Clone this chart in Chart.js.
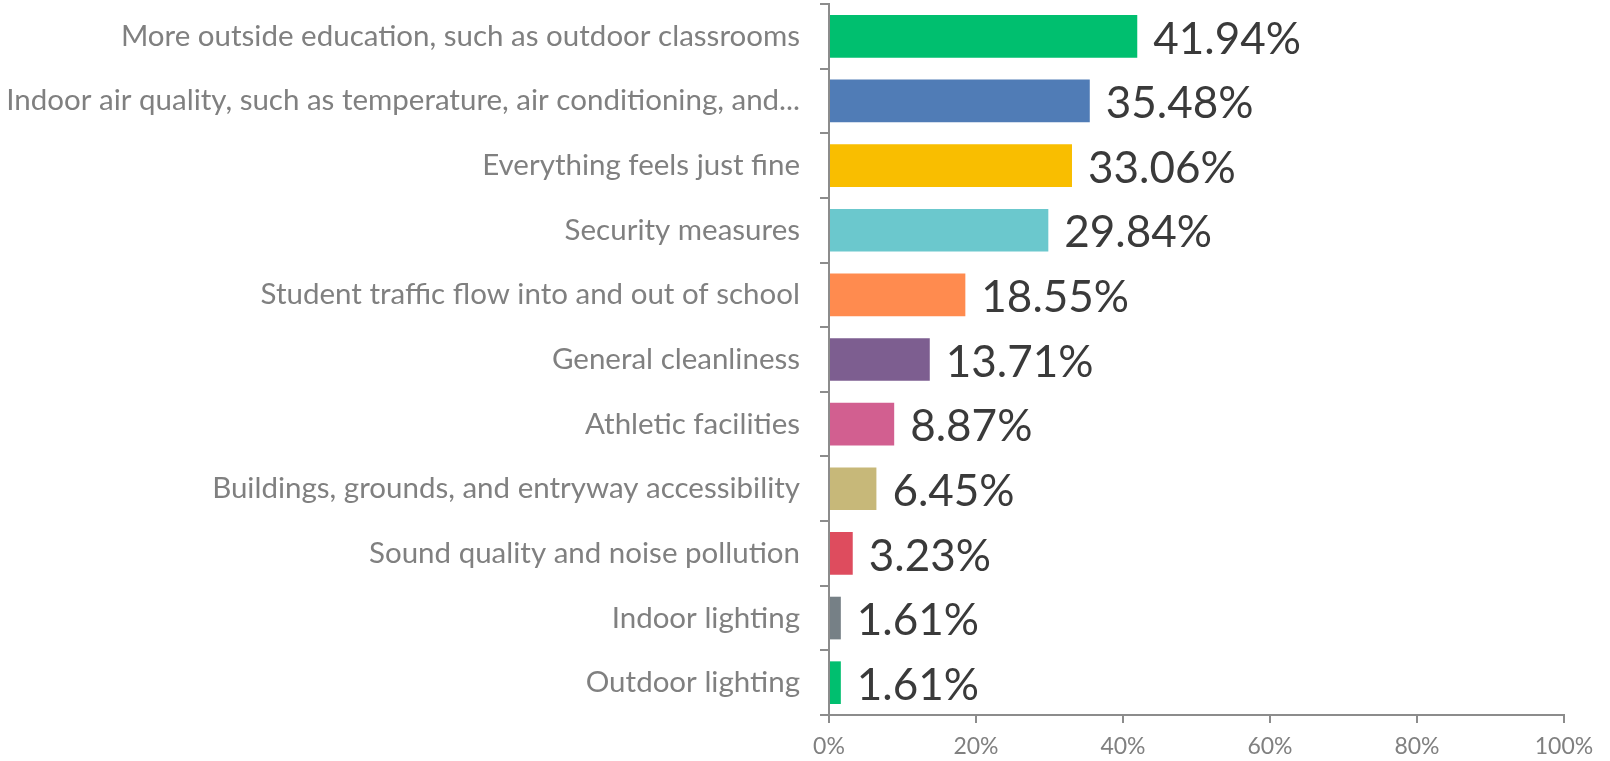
<!DOCTYPE html>
<html>
<head>
<meta charset="utf-8">
<script src="https://cdn.jsdelivr.net/npm/chart.js@4.4.1/dist/chart.umd.min.js"></script>
<style>
  html, body { margin: 0; padding: 0; background: #fff; }
  #wrap { width: 1610px; height: 761px; position: relative; }
</style>
</head>
<body>
<div id="wrap"><canvas id="barChart"></canvas></div>
<script>
// -------- Data --------
const categories = [
    "More outside education, such as outdoor classrooms",
    "Indoor air quality, such as temperature, air conditioning, and...",
    "Everything feels just fine",
    "Security measures",
    "Student traffic flow into and out of school",
    "General cleanliness",
    "Athletic facilities",
    "Buildings, grounds, and entryway accessibility",
    "Sound quality and noise pollution",
    "Indoor lighting",
    "Outdoor lighting"
];
const values = [41.94, 35.48, 33.06, 29.84, 18.55, 13.71, 8.87, 6.45, 3.23, 1.61, 1.61];
const barColors = [
    "#00BF6F", "#507CB6", "#F9BE00", "#6BC8CD", "#FF8B4F", "#7D5E90",
    "#D25F90", "#C7B879", "#DE4C5E", "#768086", "#00BF6F"
];
const xTicks = [0, 20, 40, 60, 80, 100];

// -------- Value labels --------
const valueLabels = {
    id: "valueLabels",
    afterDatasetsDraw(chart){
        const ctx = chart.ctx;
        const meta = chart.getDatasetMeta(0);
        ctx.save();
        ctx.font = "44px Lato";
        ctx.fillStyle = "#3a3a3a";
        ctx.textAlign = "left";
        ctx.textBaseline = "middle";
        meta.data.forEach(function(bar, i){
            ctx.fillText(values[i].toFixed(2) + "%", bar.x + 16, bar.y + 3);
        });
        ctx.restore();
    }
};

const ctx = document.getElementById("barChart").getContext("2d");

new Chart(ctx, {
    type: "bar",
    data: {
        labels: categories,
        datasets: [{
            data: values,
            backgroundColor: barColors,
            barPercentage: 0.66,
            categoryPercentage: 1.0
        }]
    },
    plugins: [valueLabels],
    options: {
        indexAxis: "y",
        responsive: true,
        maintainAspectRatio: false,
        animation: false,
        layout: { padding: { top: 4, right: 46, bottom: 0, left: 0 } },
        plugins: {
            legend: { display: false },
            tooltip: { enabled: false }
        },
        scales: {
            y: {
                afterFit(scale){
                    scale.width = 829;
                    scale.paddingTop = 0;
                    scale.paddingBottom = 0;
                },
                grid: {
                    display: true,
                    drawOnChartArea: false,
                    offset: true,
                    tickLength: 9,
                    lineWidth: 2,
                    color: "#8c8c8c"
                },
                border: { color: "#8c8c8c", width: 2 },
                ticks: {
                    color: "#808080",
                    padding: 20,
                    font: { family: "Lato", size: 29.5 },
                    autoSkip: false
                }
            },
            x: {
                min: 0,
                max: 100,
                afterFit(scale){ scale.height = 46; },
                afterBuildTicks(scale){
                    scale.ticks = xTicks.map(function(v){ return { value: v }; });
                },
                grid: {
                    display: true,
                    drawOnChartArea: false,
                    tickLength: 8,
                    lineWidth: 2,
                    color: "#8c8c8c"
                },
                border: { color: "#8c8c8c", width: 2 },
                ticks: {
                    color: "#808080",
                    padding: 10,
                    font: { family: "Lato", size: 23 },
                    callback: function(v){ return v + "%"; }
                }
            }
        }
    }
});
</script>
</body>
</html>
